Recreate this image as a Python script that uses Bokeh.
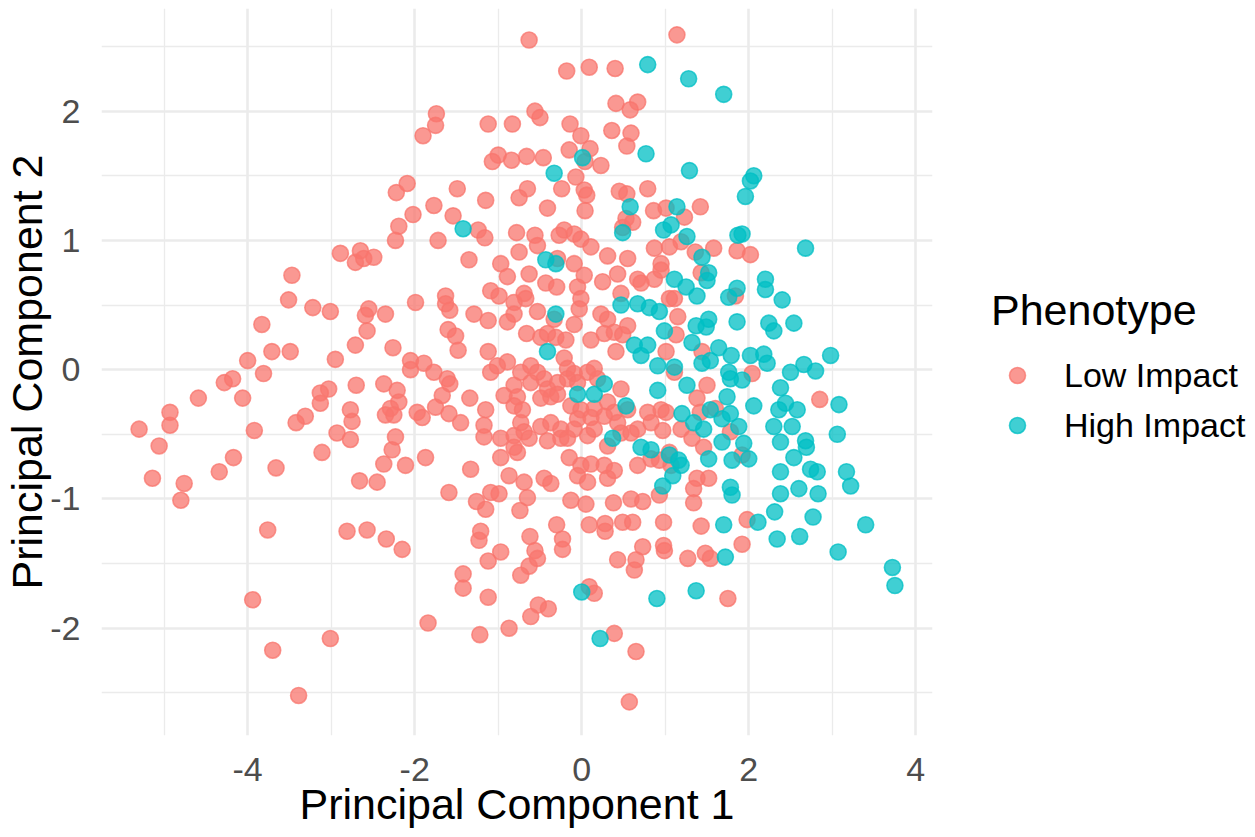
from bokeh.plotting import figure
from bokeh.models import ColumnDataSource, FixedTicker, Range1d, Legend, LegendItem, PrintfTickFormatter
from bokeh.embed import file_html
from bokeh.resources import INLINE

# ---- data ----
low_x = [
    -0.63, -0.18, 0.09, 0.40, -1.74, -1.75, -1.90, -1.12, -0.83, -0.56, -0.50, -0.14, -0.01, 0.41, 0.67, 0.58, 0.36, 0.59, 0.54,
    -1.00, -1.07, -0.84, -0.66, -0.46, -0.15, 0.04, 0.10, 0.23,
    -0.07, -0.24, 0.03, 0.06, 0.04, -0.41, -0.65, -0.75, -1.15, -1.49, -2.09, -2.22, -1.77, -2.02, -1.54, -1.24, -1.16, -2.19, -2.23, -1.72, -0.78, -0.56, -0.53, -0.75,
    0.45, 0.54, 0.53, 0.61, 0.49, 0.79, 0.86,
    -0.21, -0.09, -0.01, -0.27, 0.11, 0.31, -0.29, -1.35, -0.97, -2.49, 0.87, 0.55, -0.09,
    1.14, 1.42, 1.01, 1.23, 1.58, 1.86, 2.02, 1.36, 1.19, 1.05, 0.95,
    -2.89, -2.65, -2.61, -2.71,
    -3.47, -3.51, -3.22, -3.01, -3.83, -3.71, -3.49, -4.00, -3.81, -4.18, -4.28, -4.06, -4.59, -4.93, -4.93, -5.30, -5.06, -3.92, -4.17, -4.34, -3.66, -5.14, -4.76, -4.80,
    -2.95, -2.71, -2.57, -2.59, -2.55, -2.70, -3.03, -3.13, -3.13, -3.31, -3.42, -2.77, -2.75, -2.93, -2.77, -3.11, -2.66,
    -0.89, -0.63, 0.03, 0.25, 0.43, 0.67, 0.71, -0.43, -0.30, -0.05, -1.09, -0.99, -0.69, -0.67, -0.81, -0.01, -0.03, 0.47,
    -1.63, -1.63, -1.58, -1.99, -2.35, -1.29, -1.12, -0.89, -0.81, -0.53, -0.33, -0.09, 0.23, 0.31, 0.55,
    -1.60, -1.51, -1.48, -2.26, -1.12, -0.66, -0.49, -0.41, -0.31, -0.19, 0.11, 0.27, 0.39, 0.49, 0.41,
    -2.05, -2.05, -1.89, -1.77, -1.61, -1.58, -2.37, -2.21, -2.19, -2.29, -2.35, -2.25, -1.97, -1.91, -1.67, -1.75, -1.59, -1.45, -1.34,
    -1.09, -1.01, -0.89, -0.73, -0.61, -0.53, -0.45, -0.61, -0.81, -0.21, -0.17, -0.09, -0.17, -0.29, -0.41, -0.37, -0.49, -0.29,
    -0.93, -0.77, -0.71, -0.81, -0.05, 0.07, 0.15, 0.19, 0.47,
    -0.13, -0.01, 0.15, 0.31, 0.39, 0.27, 0.11, -0.05, 0.55, 0.43, 0.67, 0.79, 0.83,
    -1.15, -1.17, -1.17, -0.97, -0.73, -0.69, -0.63, -0.81, -0.81, -0.77, -0.49, -0.37, -0.25, -0.25, -0.17, -0.41,
    -0.09, 0.07, 0.15, 0.31, 0.47, 0.59,
    -2.23, -2.27, -2.37, -2.11, -1.87, -2.45, -1.59, -1.33, -0.97, -0.87, -0.69, -0.45, -0.37, -0.65, -1.09, -0.99, -1.26,
    -0.15, -0.01, 0.11, 0.27, -0.05, 0.07, 0.31, 0.39, -0.13, 0.05, 0.38, 0.59, 0.73, 0.67, 0.83,
    1.43, 0.95, 0.87, 1.05, 1.11, 1.15, 1.84, 1.13, 1.44, 1.01, 1.11, 2.04, 1.50, 1.38, 2.85,
    0.95, 1.01, 1.60, 1.42, 1.78, 1.19, 0.97, 1.32, 1.46, 1.05, 1.92, 0.93, 1.07, 1.38, 1.52, 1.34, 0.93, 1.34,
    -3.76, -2.81, -2.57, -3.94, -3.01, -3.70, -3.39,
    -2.34, -2.15, -1.84, -1.42, -1.42, -1.12, -1.22, -0.87, -0.61, -0.52, -0.40, -1.21, -1.23, -1.12, -0.97, -1.15,
    -0.74, -0.62, -0.56, -0.53, -0.63, -0.73, -0.30, -0.23, -0.23,
    0.09, 0.28, 0.28, 0.49, 0.61, 0.73, 0.65, 0.63, 0.43, 0.09, 0.15, 0.39, 0.65, 0.57,
    0.98, 1.43, 1.98, 0.98, 0.99, 1.27, 1.48, 1.54, 1.92, 1.75,
]
low_y = [
    2.55, 2.31, 2.34, 2.33, 1.98, 1.89, 1.81, 1.90, 1.90, 2.00, 1.95, 1.90, 1.81, 2.06, 2.07, 2.01, 1.85, 1.83, 1.73,
    1.66, 1.61, 1.62, 1.65, 1.64, 1.70, 1.61, 1.71, 1.58,
    1.49, 1.40, 1.39, 1.35, 1.23, 1.25, 1.40, 1.33, 1.31, 1.40, 1.44, 1.37, 1.27, 1.20, 1.19, 1.08, 1.02, 1.11, 1.00, 1.00, 1.06, 1.04, 0.96, 0.91,
    1.38, 1.36, 1.17, 1.14, 1.10, 1.40, 1.23,
    1.08, 1.05, 1.01, 1.04, 0.95, 0.88, 0.86, 0.85, 0.82, 0.87, 0.94, 0.86, 0.82,
    2.59, 1.26, 1.25, 1.18, 0.94, 0.92, 0.89, 0.91, 0.99, 0.95, 0.82,
    0.90, 0.92, 0.86, 0.83,
    0.73, 0.54, 0.48, 0.45, 0.35, 0.14, 0.14, 0.07, -0.03, -0.07, -0.10, -0.22, -0.22, -0.33, -0.43, -0.46, -0.59, -0.47, -0.68, -0.79, -0.76, -0.84, -0.88, -1.01,
    0.08, 0.19, 0.30, 0.42, 0.47, -0.12, -0.15, -0.18, -0.26, -0.36, -0.41, -0.31, -0.40, -0.49, -0.54, -0.64, -0.86,
    0.72, 0.74, 0.73, 0.68, 0.74, 0.70, 0.67, 0.67, 0.64, 0.64, 0.61, 0.57, 0.59, 0.55, 0.52, 0.55, 0.47, 0.59,
    0.57, 0.51, 0.46, 0.52, 0.43, 0.43, 0.38, 0.37, 0.43, 0.45, 0.39, 0.35, 0.43, 0.39, 0.34,
    0.31, 0.26, 0.15, 0.17, 0.14, 0.28, 0.25, 0.28, 0.25, 0.23, 0.23, 0.28, 0.29, 0.27, 0.14,
    0.07, 0.00, 0.05, -0.02, -0.07, -0.11, -0.11, -0.16, -0.25, -0.30, -0.35, -0.35, -0.33, -0.37, -0.20, -0.29, -0.34, -0.41, -0.22,
    -0.02, 0.03, 0.06, -0.02, 0.03, -0.02, -0.07, -0.10, -0.12, 0.09, 0.01, -0.03, -0.07, -0.10, -0.15, -0.21, -0.22, -0.19,
    -0.20, -0.21, -0.31, -0.28, -0.10, -0.02, 0.01, -0.07, -0.15,
    -0.28, -0.31, -0.30, -0.25, -0.33, -0.36, -0.37, -0.38, -0.31, -0.41, -0.46, -0.33, -0.41,
    -0.31, -0.43, -0.52, -0.53, -0.41, -0.48, -0.53, -0.51, -0.60, -0.64, -0.44, -0.41, -0.46, -0.53, -0.53, -0.55,
    -0.46, -0.51, -0.46, -0.59, -0.49, -0.49,
    -0.52, -0.62, -0.73, -0.74, -0.68, -0.87, -0.95, -0.77, -0.68, -0.82, -0.87, -0.84, -0.88, -0.99, -0.95, -0.96, -1.02,
    -0.68, -0.74, -0.73, -0.74, -0.82, -0.87, -0.84, -0.78, -1.01, -1.04, -1.03, -1.00, -1.02, -0.74, -0.69,
    0.75, 0.77, 0.70, 0.55, 0.55, 0.41, 0.57, 0.27, 0.14, 0.14, -0.02, -0.03, -0.12, -0.22, -0.23,
    -0.31, -0.33, -0.30, -0.33, -0.48, -0.46, -0.47, -0.53, -0.60, -0.64, -0.66, -0.70, -0.74, -0.84, -0.84, -0.92, -0.97, -1.03,
    -1.24, -1.25, -1.24, -1.78, -2.08, -2.17, -2.52,
    -1.31, -1.39, -1.96, -1.58, -1.69, -1.76, -2.05, -2.00, -1.91, -1.82, -1.85, -1.25, -1.32, -1.48, -1.41, -1.08,
    -1.09, -1.29, -1.40, -1.46, -1.52, -1.59, -1.20, -1.31, -1.39,
    -1.20, -1.19, -1.25, -1.18, -1.18, -1.37, -1.47, -1.55, -1.47, -1.68, -1.73, -2.04, -2.18, -2.57,
    -1.18, -1.21, -1.16, -1.36, -1.40, -1.46, -1.42, -1.46, -1.35, -1.77,
]

high_x = [
    0.79, 0.77, 0.01, -0.33, 0.58, -1.42, 0.49, -0.43, -0.31,
    1.28, 1.70, 1.29, 2.06, 2.02, 1.96, 1.14, 1.07, 0.98, 1.26, 1.92, 1.87, 2.68, 1.44,
    -0.31, 0.47, 0.67, 0.81, -0.41, 0.63, 0.71, 0.79, -0.05, 0.15, 0.27, 0.53, 0.37, 0.71, 0.83,
    1.52, 1.50, 1.11, 1.25, 1.38, 0.93, 1.76, 1.86, 2.20, 2.20, 2.40, 1.86, 2.24, 2.30, 2.54, 2.98,
    1.37, 1.49, 1.52, 0.99, 1.32, 1.64, 1.79, 2.02, 2.18, 2.22, 1.44, 1.54, 1.11, 0.91,
    1.76, 1.92, 1.78, 2.50, 2.66, 2.80, 2.38, 1.26, 0.91, 1.74, 2.06, 2.44, 2.36, 2.58, 3.08,
    1.20, 1.54, 1.78, 1.68, 1.34, 1.46, 1.88, 2.30, 2.52, 3.06, 1.68, 1.94, 2.38, 2.68, 2.69,
    1.05, 1.16, 1.52, 1.80, 2.00, 2.54, 1.19, 2.38, 2.74, 2.82, 3.17, 3.22, 1.09, 0.97, 1.78, 1.80, 2.38, 2.60, 2.83,
    0.00, 0.90, 0.22,
    1.70, 2.11, 2.31, 2.34, 2.61, 2.77, 3.40, 3.07, 3.72, 3.75, 1.72, 1.37,
]
high_y = [
    2.36, 1.67, 1.64, 1.52, 1.26, 1.09, 1.06, 0.85, 0.82,
    2.25, 2.13, 1.54, 1.50, 1.46, 1.34, 1.26, 1.12, 1.08, 1.03, 1.05, 1.04, 0.94, 0.87,
    0.43, 0.50, 0.51, 0.48, 0.14, 0.19, 0.11, 0.19, -0.19, -0.19, -0.11, -0.28, -0.53, -0.60, -0.62,
    0.75, 0.69, 0.70, 0.64, 0.57, 0.45, 0.56, 0.63, 0.70, 0.62, 0.54, 0.37, 0.36, 0.30, 0.36, 0.11,
    0.34, 0.33, 0.39, 0.30, 0.21, 0.17, 0.11, 0.11, 0.12, 0.05, 0.05, 0.07, 0.02, 0.03,
    -0.02, -0.08, -0.07, -0.02, 0.04, -0.01, -0.14, -0.12, -0.16, -0.21, -0.28, -0.26, -0.31, -0.31, -0.27,
    -0.34, -0.31, -0.34, -0.38, -0.41, -0.46, -0.44, -0.44, -0.44, -0.50, -0.56, -0.57, -0.56, -0.55, -0.60,
    -0.66, -0.70, -0.69, -0.70, -0.69, -0.68, -0.74, -0.79, -0.77, -0.79, -0.79, -0.90, -0.82, -0.90, -0.91, -0.97, -0.96, -0.92, -0.96,
    -1.72, -1.77, -2.08,
    -1.20, -1.18, -1.10, -1.31, -1.29, -1.14, -1.20, -1.41, -1.53, -1.67, -1.45, -1.71,
]

groups = ["Low Impact", "High Impact"]
x_ticks = [-4, -2, 0, 2, 4]
x_minor = [-5, -3, -1, 1, 3]
y_ticks = [-2, -1, 0, 1, 2]
y_minor = [-2.5, -1.5, -0.5, 0.5, 1.5, 2.5]

RED = "#F8766D"
TEAL = "#00BFC4"
FONT = "Liberation Sans"
GRID = "#EBEBEB"

p = figure(
    frame_width=831, frame_height=727,
    x_range=Range1d(-5.75, 4.20), y_range=Range1d(-2.83, 2.794),
    output_backend="svg", toolbar_location=None,
    min_border_left=95, min_border_right=313, min_border_top=8, min_border_bottom=90,
    background_fill_color="white", border_fill_color="white",
)
p.outline_line_color = None

src_low = ColumnDataSource(dict(x=low_x, y=low_y))
src_high = ColumnDataSource(dict(x=high_x, y=high_y))
r_low = p.scatter("x", "y", source=src_low, size=16, fill_color=RED, fill_alpha=0.75,
                  line_color=RED, line_alpha=0.75, line_width=1.6)
r_high = p.scatter("x", "y", source=src_high, size=16, fill_color=TEAL, fill_alpha=0.75,
                   line_color=TEAL, line_alpha=0.75, line_width=1.6)

p.xaxis.ticker = FixedTicker(ticks=x_ticks, minor_ticks=x_minor)
p.yaxis.ticker = FixedTicker(ticks=y_ticks, minor_ticks=y_minor)
p.xaxis.formatter = PrintfTickFormatter(format="%d")
p.yaxis.formatter = PrintfTickFormatter(format="%d")

for g in (p.xgrid, p.ygrid):
    g.grid_line_color = GRID
    g.grid_line_width = 2.6
    g.minor_grid_line_color = GRID
    g.minor_grid_line_width = 1.3

for ax in (p.xaxis, p.yaxis):
    ax.axis_line_color = None
    ax.major_tick_line_color = None
    ax.minor_tick_line_color = None
    ax.major_tick_out = 0
    ax.major_tick_in = 0
    ax.minor_tick_out = 0
    ax.minor_tick_in = 0
    ax.major_label_text_font = FONT
    ax.major_label_text_font_size = "34px"
    ax.major_label_text_color = "#4D4D4D"
    ax.axis_label_text_font = FONT
    ax.axis_label_text_font_size = "43px"
    ax.axis_label_text_font_style = "normal"
    ax.axis_label_text_color = "black"

p.xaxis.axis_label = "Principal Component 1"
p.yaxis.axis_label = "Principal Component 2"
p.xaxis.major_label_standoff = 22
p.xaxis.axis_label_standoff = -4
p.yaxis.major_label_standoff = 21
p.yaxis.axis_label_standoff = -4

legend = Legend(
    items=[LegendItem(label=groups[0], renderers=[r_low]),
           LegendItem(label=groups[1], renderers=[r_high])],
    title="Phenotype", location=(59, 290),
    title_text_font=FONT, title_text_font_size="43px", title_text_font_style="normal",
    title_text_color="black", title_standoff=20,
    label_text_font=FONT, label_text_font_size="34px", label_text_color="black",
    glyph_width=52, glyph_height=40, label_standoff=21, spacing=10,
    padding=0, margin=0, border_line_alpha=0, background_fill_alpha=0,
)
p.add_layout(legend, "right")

open("out.html", "w").write(file_html(p, INLINE))
